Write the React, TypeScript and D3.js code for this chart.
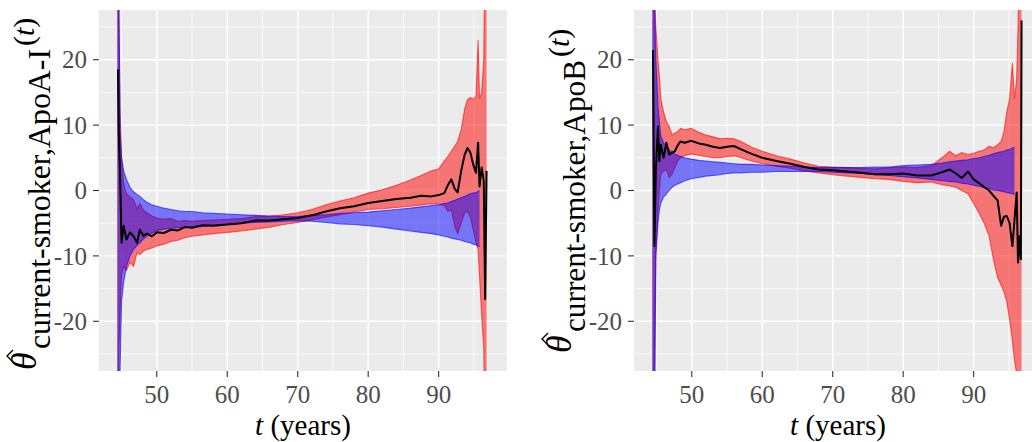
import React from 'react';
import * as d3 from 'd3';

// ---------- data ----------
const xTicks = [50, 60, 70, 80, 90];
const xMinor = [45, 55, 65, 75, 85, 95];
const yTicks = [-20, -10, 0, 10, 20];
const yMinor = [-25, -15, -5, 5, 15, 25];
const X_DOMAIN = [41.8, 99.7];
const Y_DOMAIN = [-27.6, 27.6];

// Panel A: ApoA-I
const ageA = [44.4, 44.5, 44.6, 44.8, 45.0, 45.3, 45.7, 46.2, 46.7, 47.2, 47.6, 48.1, 48.6, 49.3, 50, 51, 52, 53, 54, 55, 56.5, 58, 60, 62, 64, 66, 68, 70, 72, 74, 76, 78, 80, 82, 84, 86, 87.5, 89, 90, 90.8, 91.3, 91.8, 92.3, 92.7, 93.2, 93.7, 94.1, 94.5, 94.9, 95.3, 95.6, 95.8, 96.1, 96.4, 96.6, 96.8];
const blackA = [null, 18.5, 9, 2, -8.0, -5.4, -7.5, -6.4, -7.0, -8.0, -6.0, -6.9, -6.6, -7.0, -6.4, -6.5, -6.0, -6.1, -5.6, -5.7, -5.3, -5.4, -5.2, -5.0, -4.6, -4.6, -4.4, -4.2, -3.8, -3.2, -2.7, -2.4, -1.9, -1.6, -1.3, -1.1, -0.8, -0.9, -0.7, -0.4, 0.8, 1.7, 0.2, -0.3, 3.0, 5.5, 6.5, 5.8, 4.0, 2.7, 7.3, 0.6, 3.5, 1.5, -16.6, 3.0];
const redHighA = [40, 40, 30, 12, 5, 1.0, -0.5, -1.0, -1.4, -2.8, -2.0, -3.0, -3.4, -3.9, -4.2, -4.4, -4.3, -4.7, -4.6, -4.7, -4.6, -4.5, -4.4, -4.3, -4.0, -3.9, -3.7, -3.4, -2.9, -2.2, -1.6, -1.1, -0.4, 0.1, 0.8, 1.6, 2.3, 3.0, 3.3, 4.5, 5.2, 6.0, 6.8, 7.5, 9.3, 12.5, 13.9, 14.2, 14.0, 14.4, 23, 14, 15, 20, 40, 40];
const redLowA = [-40, -40, -25, -18, -13, -11.6, -12.2, -11.0, -11.6, -9.5, -9.8, -9.3, -9.0, -8.8, -8.5, -8.2, -7.8, -7.6, -7.2, -7.0, -6.8, -6.6, -6.4, -6.2, -5.9, -5.6, -5.2, -4.9, -4.5, -4.1, -3.7, -3.3, -2.9, -2.8, -2.6, -2.4, -2.2, -2.0, -2.1, -2.3, -3.2, -3.0, -5.5, -6.6, -5.0, -3.4, -3.2, -4.0, -6.0, -8.0, -9.0, -13, -19, -24, -40, -40];
const blueHighA = [40, 40, 30, 9, 5, 3, 1.7, 0.5, -0.2, -0.6, -0.9, -1.4, -1.8, -2.2, -2.4, -2.7, -2.9, -3.1, -3.2, -3.2, -3.4, -3.5, -3.6, -3.7, -3.8, -3.9, -4.0, -4.0, -3.8, -3.7, -3.5, -3.4, -3.3, -3.1, -2.9, -2.7, -2.5, -2.3, -2.2, -2.0, -1.9, -1.7, -1.5, -1.3, -1.1, -0.9, -0.7, -0.5, -0.4, -0.3, -0.1, 0.0, null, null, null, null];
const blueLowA = [-40, -40, -40, -27, -17, -14, -11.6, -10, -9, -8.4, -8, -7.4, -7.0, -6.5, -6.1, -5.9, -5.8, -5.7, -5.6, -5.6, -5.5, -5.3, -5.2, -5.0, -4.9, -4.8, -4.7, -4.6, -4.7, -4.9, -5.1, -5.2, -5.4, -5.6, -5.9, -6.2, -6.4, -6.6, -6.8, -7.0, -7.1, -7.3, -7.4, -7.5, -7.6, -7.8, -7.9, -8.0, -8.2, -8.3, -8.5, -8.6, null, null, null, null];

// Panel B: ApoB
const ageB = [44.4, 44.5, 44.6, 44.7, 44.9, 45.2, 45.4, 45.6, 46.0, 46.4, 46.8, 47.2, 47.6, 48.0, 48.4, 49.0, 49.9, 51, 52, 53, 54, 55, 56, 57, 58.5, 60, 62, 64, 66, 68, 70, 72, 74, 76, 78, 80, 82, 84, 85.5, 86.6, 87.5, 88.3, 89.2, 90.0, 90.8, 91.5, 92.2, 92.8, 93.4, 93.9, 94.3, 94.7, 95.1, 95.5, 95.8, 96.1, 96.3, 96.5, 96.7, 96.8];
const blackB = [null, 21.5, 5, -8.5, 3, 9.8, 4.5, 7.0, 5.0, 7.3, 5.5, 5.8, 6.0, 6.9, 7.5, 7.3, 7.6, 7.2, 7.0, 6.7, 6.5, 6.7, 6.8, 6.3, 5.6, 5.0, 4.5, 4.1, 3.6, 3.2, 3.1, 2.9, 2.7, 2.5, 2.5, 2.6, 2.3, 2.3, 2.8, 3.2, 2.6, 1.9, 2.9, 1.7, 1.1, 0.5, 0.0, -0.8, -1.5, -5.4, -4.0, -3.9, -5.0, -8.5, -4.5, -0.3, -11, -7, -10.5, 26];
const redHighB = [40, 40, 40, 30, 25, 20, 17.5, 14, 12, 10.5, 9.8, 8.5, 8.8, 9.0, 9.5, 9.3, 9.5, 8.9, 8.5, 8.2, 7.9, 8.0, 7.9, 7.5, 6.6, 6.0, 5.3, 4.8, 4.2, 3.7, 3.6, 3.5, 3.4, 3.3, 3.5, 3.6, 3.5, 3.8, 5.0, 6.0, 5.3, 5.8, 5.5, 5.7, 6.0, 6.2, 6.8, 6.5, 7.0, 7.5, 9.0, 12, 14, 19.5, 14, 17, 25, 40, 40, 40];
const redLowB = [-40, -40, -40, -25, -10, -3, 0, 2.5, 3, 3.2, 2.0, 2.5, 3.5, 4.5, 5.0, 5.3, 5.6, 5.4, 5.2, 5.0, 5.0, 5.2, 5.3, 5.0, 4.5, 4.1, 3.7, 3.4, 3.0, 2.7, 2.4, 2.2, 2.0, 1.8, 1.7, 1.4, 1.2, 1.3, 0.9, 0.7, 0.5, 0.0, -0.5, -2.0, -3.5, -5.0, -7.0, -10.5, -13.3, -14.5, -15.5, -17, -19.7, -23, -26, -28, -40, -40, -40, -40];
const blueHighB = [40, 40, 40, 30, 20, 13, 10.5, 8.3, 7.3, 6.7, 6.2, 5.9, 5.6, 5.4, 5.2, 5.0, 4.8, 4.6, 4.5, 4.4, 4.3, 4.2, 4.1, 4.0, 4.0, 3.9, 3.8, 3.7, 3.6, 3.5, 3.5, 3.5, 3.5, 3.6, 3.6, 3.8, 3.9, 4.0, 4.2, 4.4, 4.5, 4.6, 4.7, 4.9, 5.0, 5.2, 5.4, 5.6, 5.8, 5.9, 6.0, 6.2, 6.3, 6.5, 6.6, null, null, null, null, null];
const blueLowB = [-40, -40, -40, -40, -10, -5, -3, -1.9, -1.0, -0.5, 0.0, 0.5, 0.8, 1.0, 1.2, 1.5, 1.8, 2.0, 2.2, 2.3, 2.4, 2.6, 2.7, 2.7, 2.8, 2.8, 2.9, 2.9, 2.9, 2.9, 2.8, 2.7, 2.6, 2.4, 2.3, 2.1, 1.9, 1.7, 1.5, 1.4, 1.3, 1.1, 1.0, 0.8, 0.6, 0.5, 0.3, 0.1, 0.0, -0.1, -0.2, -0.3, -0.4, -0.5, -0.6, null, null, null, null, null];

const FONT = "'Liberation Serif', 'DejaVu Serif', serif";
const PANEL_W = 408;
const TOP = 10;
const BOTTOM = 371;

type PanelProps = {
  id: string;
  left: number;
  ages: number[];
  black: (number | null)[];
  redLow: (number | null)[];
  redHigh: (number | null)[];
  blueLow: (number | null)[];
  blueHigh: (number | null)[];
  sub: string;
  thetaStart: number;
  subLength: number;
};

function Panel({ id, left, ages, black, redLow, redHigh, blueLow, blueHigh, sub, thetaStart, subLength }: PanelProps) {
  const x = d3.scaleLinear().domain(X_DOMAIN).range([left, left + PANEL_W]);
  const y = d3.scaleLinear().domain(Y_DOMAIN).range([BOTTOM, TOP]);
  const idx = d3.range(ages.length);

  const band = (lo: (number | null)[], hi: (number | null)[]) =>
    d3.area<number>()
      .defined(i => lo[i] != null && hi[i] != null)
      .x(i => x(ages[i]))
      .y0(i => y(lo[i] as number))
      .y1(i => y(hi[i] as number))(idx) || '';
  const line = (v: (number | null)[]) =>
    d3.line<number>()
      .defined(i => v[i] != null)
      .x(i => x(ages[i]))
      .y(i => y(v[i] as number))(idx) || '';

  const cx = left + PANEL_W / 2;
  const subStart = thetaStart - 21;
  const tStart = subStart - subLength - 3;
  const hatY = thetaStart - 14;

  return (
    <g>
      <defs>
        <clipPath id={id}>
          <rect x={left} y={TOP} width={PANEL_W} height={BOTTOM - TOP} />
        </clipPath>
      </defs>
      <rect x={left} y={TOP} width={PANEL_W} height={BOTTOM - TOP} fill="#EBEBEB" />
      {xMinor.map(t => (
        <line key={'xm' + t} x1={x(t)} x2={x(t)} y1={TOP} y2={BOTTOM} stroke="#fff" strokeWidth={0.7} />
      ))}
      {yMinor.map(t => (
        <line key={'ym' + t} x1={left} x2={left + PANEL_W} y1={y(t)} y2={y(t)} stroke="#fff" strokeWidth={0.7} />
      ))}
      {xTicks.map(t => (
        <line key={'xM' + t} x1={x(t)} x2={x(t)} y1={TOP} y2={BOTTOM} stroke="#fff" strokeWidth={1.4} />
      ))}
      {yTicks.map(t => (
        <line key={'yM' + t} x1={left} x2={left + PANEL_W} y1={y(t)} y2={y(t)} stroke="#fff" strokeWidth={1.4} />
      ))}
      <g clipPath={`url(#${id})`}>
        <path d={band(redLow, redHigh)} fill="#FF0000" fillOpacity={0.5} />
        <path d={line(redLow)} fill="none" stroke="#FF0000" strokeOpacity={0.6} strokeWidth={1.1} />
        <path d={line(redHigh)} fill="none" stroke="#FF0000" strokeOpacity={0.6} strokeWidth={1.1} />
        <path d={band(blueLow, blueHigh)} fill="#0000FF" fillOpacity={0.5} />
        <path d={line(blueLow)} fill="none" stroke="#0000FF" strokeOpacity={0.6} strokeWidth={1.1} />
        <path d={line(blueHigh)} fill="none" stroke="#0000FF" strokeOpacity={0.6} strokeWidth={1.1} />
        <path d={line(black)} fill="none" stroke="#000" strokeWidth={2} strokeLinejoin="round" />
      </g>
      {xTicks.map(t => (
        <g key={'xt' + t}>
          <line x1={x(t)} x2={x(t)} y1={BOTTOM} y2={BOTTOM + 6} stroke="#333" strokeWidth={1.1} />
          <text x={x(t)} y={403} textAnchor="middle" fontFamily={FONT} fontSize={25} fill="#4D4D4D">{t}</text>
        </g>
      ))}
      {yTicks.map(t => (
        <g key={'yt' + t}>
          <line x1={left - 6} x2={left} y1={y(t)} y2={y(t)} stroke="#333" strokeWidth={1.1} />
          <text x={left - 12} y={y(t)} dy="0.35em" textAnchor="end" fontFamily={FONT} fontSize={25} fill="#4D4D4D">{t}</text>
        </g>
      ))}
      {/* x title */}
      <text x={cx} y={435} textAnchor="middle" fontFamily={FONT} fontSize={29} fill="#000">
        <tspan fontStyle="italic">t</tspan>
        <tspan>{'\u00A0(years)'}</tspan>
      </text>
      {/* y title */}
      <g fontFamily={FONT} fill="#000">
        <text transform="rotate(-90)" x={-thetaStart} y={left - 63} fontSize={36} fontStyle="italic">{'\u03B8'}</text>
        <path d={`M${left - 86},${hatY + 6} L${left - 92},${hatY} L${left - 86},${hatY - 6}`} fill="none" stroke="#000" strokeWidth={1.4} />
        <text transform="rotate(-90)" x={-subStart} y={left - 49} fontSize={32} textLength={subLength} lengthAdjust="spacingAndGlyphs">{sub}</text>
        <text transform="rotate(-90)" x={-tStart} y={left - 65} fontSize={30}>
          <tspan>(</tspan><tspan fontStyle="italic">t</tspan><tspan>)</tspan>
        </text>
      </g>
    </g>
  );
}

export default function App() {
  return (
    <svg width={1032} height={442} style={{ position: 'absolute', left: 0, top: 0, background: '#fff' }}>
      <rect x={0} y={0} width={1032} height={442} fill="#fff" />
      <Panel id="clipA" left={99} ages={ageA} black={blackA} redLow={redLowA} redHigh={redHighA}
        blueLow={blueLowA} blueHigh={blueHighA} sub="current-smoker,ApoA-I" thetaStart={370} subLength={300} />
      <Panel id="clipB" left={634} ages={ageB} black={blackB} redLow={redLowB} redHigh={redHighB}
        blueLow={blueLowB} blueHigh={blueHighB} sub="current-smoker,ApoB" thetaStart={353} subLength={272} />
    </svg>
  );
}
